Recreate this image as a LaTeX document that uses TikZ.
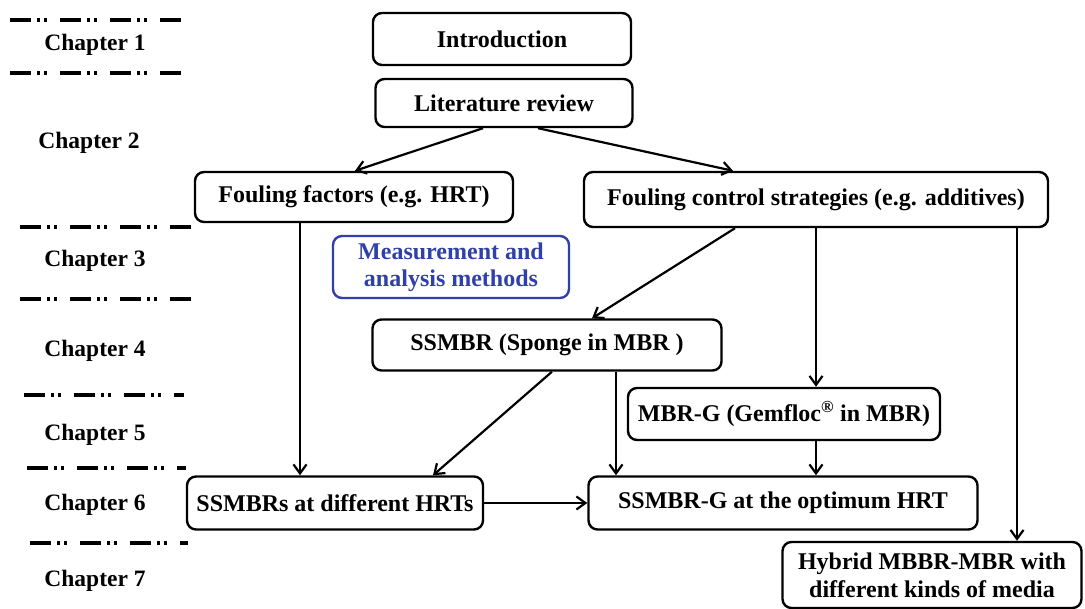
\documentclass[tikz,border=0pt]{standalone}
\usepackage{fontspec}
\setmainfont{Liberation Serif}
\usetikzlibrary{arrows.meta,calc}
\definecolor{mblue}{RGB}{47,64,168}
\begin{document}
\begin{tikzpicture}[x=1pt,y=-1pt,
  box/.style={draw,line width=2.4pt,rounded corners=9pt,inner sep=0pt,font=\fontsize{24}{27}\selectfont\bfseries,align=center},
  chap/.style={font=\fontsize{23.5}{26}\selectfont\bfseries},
  sep/.style={line width=3.2pt,dash pattern=on 21pt off 6pt on 3pt off 4pt on 3pt off 13pt},
  arr/.style={line width=2.2pt,-{Straight Barb[length=9pt,width=13pt,line width=2.2pt]}}]
\useasboundingbox (0,0) rectangle (1085,609);
% chapter labels
\node[chap] (c1) at (95,45) {Chapter 1};
\node[chap] (c2) at (89,143) {Chapter 2};
\node[chap] (c3) at (95,261) {Chapter 3};
\node[chap] (c4) at (95,351) {Chapter 4};
\node[chap] (c5) at (95,435) {Chapter 5};
\node[chap] (c6) at (95,505) {Chapter 6};
\node[chap] (c7) at (95,581) {Chapter 7};
% separators
\coordinate (s1a) at (10,20);  \coordinate (s1b) at (186,20);
\coordinate (s2a) at (10,73);  \coordinate (s2b) at (184,73);
\coordinate (s3a) at (20,227); \coordinate (s3b) at (191,227);
\coordinate (s4a) at (20,299); \coordinate (s4b) at (191,299);
\coordinate (s5a) at (24,395); \coordinate (s5b) at (184,395);
\coordinate (s6a) at (27,468); \coordinate (s6b) at (186,468);
\coordinate (s7a) at (30,543); \coordinate (s7b) at (188,543);
\foreach \i in {1,...,7} {\draw[sep] (s\i a) -- (s\i b);}
% boxes
\node[box,minimum width=258pt,minimum height=52pt] (intro) at (502,39) {Introduction};
\node[box,minimum width=257pt,minimum height=48pt] (lit) at (504,103) {Literature review};
\node[box,minimum width=318pt,minimum height=50pt] (ff) at (354,197) {Fouling factors (e.g. HRT)};
\node[box,minimum width=464pt,minimum height=55pt] (fc) at (816,199.5) {Fouling control strategies (e.g. additives)};
\node[box,draw=mblue,text=mblue,minimum width=236pt,minimum height=62pt,font=\fontsize{24}{27}\selectfont\bfseries] (meas) at (451,267) {Measurement and\\analysis methods};
\node[box,minimum width=349pt,minimum height=51pt] (ss) at (547,345) {SSMBR (Sponge in MBR )};
\node[box,minimum width=312pt,minimum height=52pt] (mg) at (784,414) {MBR-G (Gemfloc\textsuperscript{\textregistered} in MBR)};
\node[box,minimum width=296pt,minimum height=53pt] (ssh) at (335,503) {SSMBRs at different HRTs};
\node[box,minimum width=389pt,minimum height=53pt] (ssg) at (783,503) {SSMBR-G at the optimum HRT};
\node[box,minimum width=299pt,minimum height=66pt,font=\fontsize{24}{28}\selectfont\bfseries] (hy) at (932,575) {Hybrid MBBR-MBR with\\different kinds of media};
% connectors
\draw[arr] (lit.south -| 483,0) -- (ff.north -| 355,0);
\draw[arr] (lit.south -| 538,0) -- (fc.north -| 733,0);
\draw[arr] (ff.south -| 300,0) -- (ssh.north -| 300,0);
\draw[arr] (fc.south -| 735,0) -- (ss.north -| 592,0);
\draw[arr] (fc.south -| 816,0) -- (mg.north -| 816,0);
\draw[arr] (fc.south -| 1017,0) -- (hy.north -| 1017,0);
\draw[arr] (ss.south -| 552,0) -- (ssh.north -| 433,0);
\draw[arr] (ss.south -| 616,0) -- (ssg.north -| 616,0);
\draw[arr] (mg.south -| 816,0) -- (ssg.north -| 816,0);
\draw[arr] (ssh.east) -- (ssg.west);
\end{tikzpicture}
\end{document}
